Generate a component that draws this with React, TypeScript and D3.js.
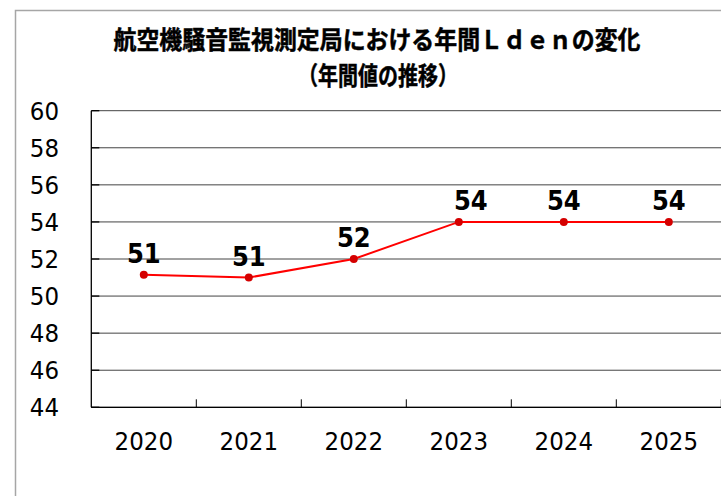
import React from "react";
import * as d3 from "d3";

const years = ["2020", "2021", "2022", "2023", "2024", "2025"];
const lden = [51.15, 51.0, 52.0, 54.0, 54.0, 54.0];
const yTicks = [44, 46, 48, 50, 52, 54, 56, 58, 60];
const titleLine1 = "航空機騒音監視測定局における年間Ｌｄｅｎの変化";
const titleLine2 = "（年間値の推移）";

const W = 721;
const H = 496;
const plotLeft = 91.3;
const plotTop = 110.7;
const plotBottom = 407.3;
const band = 105;

const axisFont = "'DejaVu Sans Condensed', 'DejaVu Sans', sans-serif";

export default function App() {
  const x = d3
    .scaleBand<string>()
    .domain(years)
    .range([plotLeft, plotLeft + band * years.length])
    .padding(0);
  const y = d3.scaleLinear().domain([44, 60]).range([plotBottom, plotTop]);
  const cx = (d: string) => (x(d) as number) + x.bandwidth() / 2;
  const line = d3
    .line<number>()
    .x((_, i) => cx(years[i]))
    .y((v) => y(v));
  const fmt = d3.format(".0f");
  const plotRight = plotLeft + band * years.length;
  const labelNudge = [0, 0, 0, 12, 0, 0];

  return (
    <svg
      width={W}
      height={H}
      style={{ position: "absolute", left: 0, top: 0, background: "#fff" }}
    >
      <rect x={15.5} y={10.5} width={900} height={700} fill="#fff" stroke="#a6a6a6" strokeWidth={1.5} />
      <text
        x={377}
        y={48.5}
        textAnchor="middle"
        fontFamily="'Noto Sans CJK JP', sans-serif"
        fontWeight="bold"
        fontSize={25}
        textLength={527}
        lengthAdjust="spacingAndGlyphs"
        fill="#000"
        stroke="#000"
        strokeWidth={0.5}
      >
        {titleLine1}
      </text>
      <text
        x={378}
        y={84.5}
        textAnchor="middle"
        fontFamily="'Noto Sans CJK JP', sans-serif"
        fontWeight="bold"
        fontSize={25}
        textLength={160}
        lengthAdjust="spacingAndGlyphs"
        fill="#000"
        stroke="#000"
        strokeWidth={0.5}
      >
        {titleLine2}
      </text>

      {/* gridlines */}
      {yTicks.map((t) => (
        <line key={"g" + t} x1={plotLeft} x2={plotRight} y1={y(t)} y2={y(t)} stroke="#444" strokeWidth={1} />
      ))}
      {/* y ticks inside */}
      {yTicks.map((t) => (
        <line key={"yt" + t} x1={plotLeft} x2={plotLeft + 8} y1={y(t)} y2={y(t)} stroke="#000" strokeWidth={1.3} />
      ))}
      {/* axes */}
      <line x1={plotLeft} x2={plotLeft} y1={plotTop} y2={plotBottom} stroke="#000" strokeWidth={1.3} />
      <line x1={plotLeft} x2={plotRight} y1={plotBottom} y2={plotBottom} stroke="#000" strokeWidth={1.3} />
      {years.map((yr) => (
        <line
          key={"xt" + yr}
          x1={(x(yr) as number) + band}
          x2={(x(yr) as number) + band}
          y1={plotBottom}
          y2={plotBottom - 8}
          stroke="#000"
          strokeWidth={1}
        />
      ))}
      {/* y labels */}
      {yTicks.map((t) => (
        <text
          key={"yl" + t}
          x={59}
          y={y(t)}
          dy="0.36em"
          textAnchor="end"
          fontFamily={axisFont}
          fontSize={25.5}
          fill="#000"
        >
          {t}
        </text>
      ))}
      {/* x labels */}
      {years.map((yr) => (
        <text
          key={"xl" + yr}
          x={cx(yr)}
          y={450}
          textAnchor="middle"
          fontFamily={axisFont}
          fontSize={25.5}
          fill="#000"
        >
          {yr}
        </text>
      ))}
      {/* series */}
      <path d={line(lden) || ""} fill="none" stroke="#ff0000" strokeWidth={2} />
      {lden.map((v, i) => (
        <circle key={"p" + i} cx={cx(years[i])} cy={y(v)} r={4} fill="#d40000" />
      ))}
      {lden.map((v, i) => (
        <text
          key={"dl" + i}
          x={cx(years[i]) + labelNudge[i]}
          y={y(v) - 12}
          textAnchor="middle"
          fontFamily={axisFont}
          fontWeight="bold"
          fontSize={27}
          fill="#000"
        >
          {fmt(v)}
        </text>
      ))}
    </svg>
  );
}
